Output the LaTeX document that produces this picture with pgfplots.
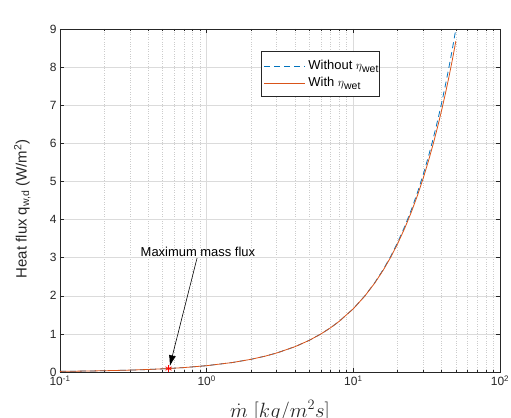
\documentclass[border=0pt]{standalone}
\usepackage{fontspec}
\setmainfont{Liberation Sans}
\usepackage{pgfplots}
\pgfplotsset{compat=1.18}
\usetikzlibrary{arrows.meta}
\definecolor{mblue}{rgb}{0,0.447,0.741}
\definecolor{morange}{rgb}{0.85,0.325,0.098}
\definecolor{axgray}{rgb}{0.15,0.15,0.15}
\newcommand{\wet}{$\eta$\raisebox{-0.45ex}{\fontsize{10.5}{12}\selectfont wet}}
\begin{document}
\begin{tikzpicture}
\begin{axis}[
  scale only axis, width=440bp, height=343bp,
  xmode=log, xmin=0.1, xmax=100, ymin=0, ymax=9,
  xtick={0.1,1,10,100},
  xticklabels={10\textsuperscript{-1},10\textsuperscript{0},10\textsuperscript{1},10\textsuperscript{2}},
  minor xtick={0.2,0.3,0.4,0.5,0.6,0.7,0.8,0.9,2,3,4,5,6,7,8,9,20,30,40,50,60,70,80,90},
  ytick={0,1,2,3,4,5,6,7,8,9},
  /pgf/number format/assume math mode=true,
  grid=both,
  major grid style={line width=0.5pt, draw=black!14},
  minor grid style={line width=0.4pt, draw=black!20, dotted},
  tick align=inside,
  xtick pos=both, ytick pos=both,
  major tick length=4bp, minor tick length=2.5bp,
  axis line style={axgray, line width=0.6pt},
  tick style={axgray, line width=0.5pt},
  ticklabel style={font=\fontsize{12}{14}\selectfont, text=axgray},
  ylabel={Heat flux q\textsubscript{w,d} (W/m\textsuperscript{2})},
  ylabel style={at={(axis description cs:-0.059,0.476)}, anchor=south, font=\fontsize{15}{18}\selectfont, text=axgray},
  xlabel={$\dot m\ [kg/m^2 s]$},
  xlabel style={at={(axis description cs:0.5,0)}, anchor=base, yshift=-45bp, font=\fontsize{21}{24}\selectfont, text=axgray},
]
\addplot[draw=mblue, line width=0.8pt, dash pattern=on 6bp off 4bp] coordinates {
 (0.1,0.0166) (0.15,0.025) (0.2,0.033) (0.3,0.050) (0.4,0.066) (0.55,0.091) (0.7,0.116)
 (1,0.166) (1.5,0.249) (2,0.332) (2.5,0.415) (3,0.498) (4,0.664) (5,0.830) (6,0.996)
 (7,1.162) (8,1.328) (10,1.660) (12,2.000) (14,2.344) (16,2.690) (18,3.038) (20,3.390)
 (22.5,3.833) (25,4.281) (27.5,4.733) (30,5.190) (32.5,5.651) (35,6.116) (37.5,6.586)
 (40,7.060) (42.5,7.538) (45,8.021) (47.5,8.508) (50,9.000)};
\addplot[draw=morange, line width=0.8pt] coordinates {
 (0.1,0.0166) (0.15,0.025) (0.2,0.033) (0.3,0.050) (0.4,0.066) (0.55,0.091) (0.7,0.116)
 (1,0.166) (1.5,0.249) (2,0.332) (2.5,0.415) (3,0.498) (4,0.664) (5,0.830) (6,0.996)
 (7,1.162) (8,1.328) (10,1.660) (12,1.997) (14,2.335) (16,2.674) (18,3.015) (20,3.358)
 (22.5,3.788) (25,4.221) (27.5,4.656) (30,5.094) (32.5,5.534) (35,5.976) (37.5,6.421)
 (40,6.868) (42.5,7.317) (45,7.769) (47.5,8.223) (50,8.680)};
\addplot[only marks, mark=asterisk, red, mark size=3.5bp, line width=0.7pt] coordinates {(0.55,0.091)};
% legend box
\draw[axgray, line width=0.5pt, fill=white] (rel axis cs:0.457,0.805) rectangle (rel axis cs:0.725,0.936);
\draw[draw=mblue, line width=0.9pt, dash pattern=on 6bp off 4bp] (rel axis cs:0.464,0.892) -- (rel axis cs:0.557,0.892);
\draw[draw=morange, line width=1.3pt] (rel axis cs:0.464,0.841) -- (rel axis cs:0.557,0.841);
\node[anchor=west, inner sep=1bp, font=\fontsize{13}{15}\selectfont, text=black] at (rel axis cs:0.562,0.892) {Without \wet};
\node[anchor=west, inner sep=1bp, font=\fontsize{13}{15}\selectfont, text=black] at (rel axis cs:0.562,0.841) {With \wet};
\draw[-{Latex[length=11bp,width=7bp]}, black, line width=0.6pt] (axis cs:0.86,2.99) -- (axis cs:0.56,0.15);
\node[font=\fontsize{13}{15}\selectfont, text=black] at (axis cs:0.872,3.15) {Maximum mass flux};
\node[anchor=south west, inner sep=1bp, font=\fontsize{11}{13}\selectfont, text=axgray] at (rel axis cs:0,1) {×10\textsuperscript{6}};
\end{axis}
\pgfresetboundingbox
\path[use as bounding box] (-60bp,-46bp) rectangle (451bp,372bp);
\end{tikzpicture}
\end{document}
